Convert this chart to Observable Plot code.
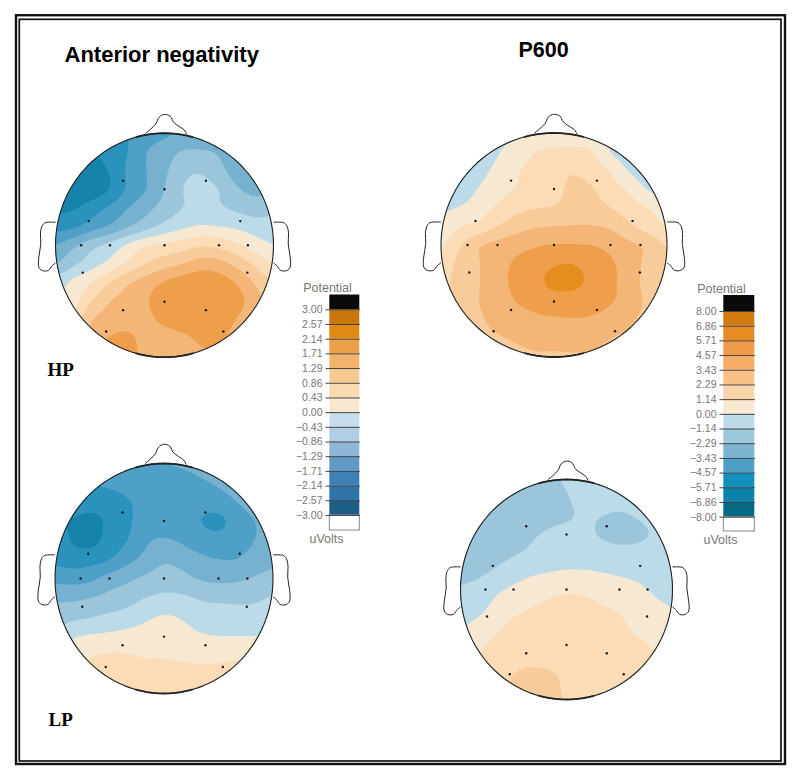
<!DOCTYPE html>
<html><head><meta charset="utf-8">
<style>html,body{margin:0;padding:0;background:#fff}svg{display:block}</style>
<script src="https://cdn.jsdelivr.net/npm/d3@7"></script>
<script src="https://cdn.jsdelivr.net/npm/@observablehq/plot@0.6"></script>
</head><body><div id="chart"></div>
<script>
// Potentials, in legend steps (1 step = 3/7 uV on the left scale, 8/7 uV on the right).
// Rows run front to back of the head, columns left to right, across a 13 x 13 scalp grid.
const anteriorHP = [
[-5.5,-5.5,-5,-4.6,-4,-3.5,-3.2,-2.9,-2.7,-2.5,-2.4,-2.4,-2.4],
[-6,-5.2,-5.1,-4.6,-4,-3,-2.5,-1.9,-1.9,-2.1,-2.6,-3.1,-3.3],
[-5.6,-5.5,-5.4,-4.9,-3.8,-3,-2.2,-1.3,-1.1,-1.7,-2.5,-3,-3.2],
[-5.7,-5.6,-5.6,-5,-3.8,-3,-2,-1,-.7,-1,-1.9,-2.3,-2.2],
[-5.2,-5.1,-4.5,-3.8,-3,-2.3,-1.6,-1,-.8,-.9,-1.2,-1.5,-1.3],
[-4.4,-4.2,-3.5,-2.9,-2.1,-1.4,-.7,-.2,.1,0,-.2,-.5,-.6],
[-3,-2.2,-1.3,-.7,.2,.9,1.2,1.5,1.9,1.7,1.2,.5,0],
[-2,-1.2,-.4,.3,1.2,2,2.6,3,3.5,3.4,2.7,1.8,.9],
[-.5,.3,1,2,2.9,3.5,4.1,4.5,4.7,4.5,3.9,2.9,2],
[.2,.6,2,3,3.4,3.9,4.6,4.8,4.9,4.8,4.4,3.4,2.6],
[1.2,1.5,3,3.4,3.5,3.7,4.3,4.7,4.8,4.7,3.9,3.3,2.8],
[2,2.5,3.4,4.1,4.3,3.5,3.4,3.7,4.2,4.2,3.5,3.2,3],
[2.5,3,4,4.6,4.5,3.6,3.3,3.4,3.8,3.8,3.4,3.2,3]];
const p600HP = [
[-1,-1,-.8,-.3,-.1,.3,.6,.5,.3,0,-.4,-.8,-1],
[-1.3,-1.2,-.9,-.1,.4,1,1.1,1.2,1.05,-.05,-.6,-.8,-1],
[-1.2,-1,-.4,.3,.9,1.3,1.5,1.9,1.5,.95,-.1,-.7,-.9],
[-.9,-.6,.05,.6,1.05,1.4,1.6,2.3,2.1,1.4,.85,-.1,-.4],
[-.2,.05,.5,1.15,1.7,1.95,2.05,2.4,2.4,2,1.45,1,.5],
[.4,.95,1.3,2,2.6,2.9,3,3.05,3.05,2.85,2.2,1.5,1],
[.85,1.9,2.9,3.3,3.6,3.9,4.05,4.05,4,3.7,3.2,2.8,1.9],
[1.4,2.3,2.95,3.5,4.2,4.5,4.9,5,4.6,4.15,3.5,2.7,2],
[1.7,2.4,2.95,3.6,4.3,4.7,5.3,5.3,4.75,4.3,3.4,2.7,2.1],
[1.8,2.4,3,3.4,4.05,4.35,4.5,4.5,4.35,4.1,3.5,2.8,2.2],
[1.9,2.4,2.85,3.3,3.5,3.8,3.9,3.95,3.9,3.6,3.15,2.7,2.3],
[1.9,2.3,2.6,2.9,3.1,3.3,3.3,3.4,3.3,3,2.8,2.5,2.3],
[2,2.2,2.4,2.6,2.8,2.9,2.9,2.9,2.9,2.8,2.6,2.4,2.2]];
const anteriorLP = [
[-4.5,-4.5,-4,-3.6,-3.3,-3.05,-3,-2.9,-2.8,-2.7,-2.5,-2.4,-2.4],
[-4.5,-4.3,-4,-3.8,-3.5,-3.4,-3.4,-3.3,-3.1,-2.9,-2.6,-2.4,-2.3],
[-5,-4.6,-4.4,-4.5,-4.1,-3.6,-3.5,-3.5,-3.6,-3.4,-3,-2.6,-2.4],
[-5,-5.05,-5.4,-4.7,-4.15,-3.6,-3.5,-3.6,-4,-4.3,-3.5,-3,-2.6],
[-4.5,-5.1,-5.3,-4.6,-4,-3.15,-2.9,-3.15,-3.5,-3.6,-3.4,-3,-2.6],
[-4.3,-4.5,-4.4,-4.05,-3.3,-2.7,-2.15,-2.4,-2.8,-3,-3,-2.6,-2.2],
[-3.3,-3.4,-3.2,-2.6,-2.2,-1.8,-1.5,-1.7,-2.1,-2.25,-2.2,-1.9,-1.7],
[-2.2,-2.2,-2,-1.7,-1.4,-1,-.8,-.85,-1.1,-1.2,-1.2,-1.15,-.9],
[-1.5,-1.25,-1.05,-.8,-.6,-.2,.1,-.1,-.5,-.6,-.7,-.7,-.7],
[-.6,-.1,.1,.2,.35,.5,.6,.4,.1,0,0,0,0],
[.3,.6,.95,1.1,1.05,.9,.9,.8,.7,.75,.85,.8,.7],
[1,1.2,1.4,1.6,1.6,1.5,1.5,1.4,1.3,1.3,1.3,1.2,1.1],
[1.5,1.6,1.7,1.7,1.7,1.7,1.7,1.7,1.6,1.6,1.6,1.5,1.5]];
const p600LP = [
[-1.6,-1.6,-1.6,-1.5,-1.4,-1.2,-.9,-.7,-.6,-.5,-.5,-.5,-.5],
[-1.6,-1.6,-1.6,-1.5,-1.5,-1.3,-1.05,-.75,-.7,-.7,-.6,-.5,-.5],
[-1.6,-1.6,-1.5,-1.5,-1.4,-1.2,-1.1,-.9,-1,-1.1,-.95,-.7,-.6],
[-1.7,-1.6,-1.5,-1.35,-1.1,-.9,-.75,-.8,-1.1,-1.3,-1.2,-.9,-.6],
[-1.6,-1.5,-1.3,-1.1,-.85,-.6,-.5,-.5,-.6,-.7,-.7,-.6,-.5],
[-1.3,-1.2,-.9,-.55,-.2,-.05,.05,.05,-.05,-.2,-.3,-.4,-.4],
[-.9,-.7,-.2,.2,.5,.7,.85,.8,.65,.5,.2,-.15,-.4],
[-.5,-.3,.3,.75,1,1.25,1.4,1.3,1.05,.9,.55,.25,0],
[-.1,.3,.8,1.2,1.45,1.6,1.65,1.6,1.45,1.2,.8,.55,.3],
[.3,.8,1.2,1.5,1.6,1.7,1.75,1.7,1.6,1.4,1.15,.9,.6],
[.6,1.1,1.5,1.8,1.9,1.85,1.8,1.75,1.65,1.45,1.3,1.1,.9],
[.8,1.3,1.7,2.1,2.3,2.25,1.85,1.75,1.65,1.5,1.4,1.2,1],
[1,1.4,1.8,2.1,2.3,2.3,1.9,1.75,1.65,1.5,1.4,1.3,1.1]];

// Electrode sites on the unit scalp, nose up.
const siteU = [-.38,0,.38,-.695,.695,-.765,-.5,0,.5,.765,-.75,.76,0,-.38,.38,-.535,.54];
const siteV = [.575,.5,.575,.215,.215,0,0,0,0,0,-.245,-.245,-.505,-.58,-.58,-.77,-.77];
const noseU = [-.171,-.125,-.08,-.049,-.003,.052,.083,.135,.18,.202];
const noseV = [1,1.039,1.083,1.143,1.167,1.152,1.098,1.06,1.03,.994];
const earU = [1.003,1.037,1.098,1.128,1.138,1.135,1.153,1.153,1.122,1.067,1.03,1.003];
const earV = [.205,.206,.199,.161,.101,.012,-.107,-.196,-.226,-.226,-.182,-.161];

const contourLevels = [-7,-6,-5,-4,-3,-2,-1,0,1,2,3,4,5,6,7];
const contourColors = ["#0e6a88","#1583ab","#2a92bd","#4fa0c6","#76b2d0","#9ac5da","#bcdbe8","#f7e8d2","#fbdcb6","#f8cb9a","#f4b676","#ef9f4c","#e58e1e","#d9780f","#0a0a0a"];

const leftLabels = ["3.00","2.57","2.14","1.71","1.29","0.86","0.43","0.00","\u22120.43","\u22120.86","\u22121.29","\u22121.71","\u22122.14","\u22122.57","\u22123.00"];
const leftColors = ["#c9760f","#e08a14","#eba14a","#f2b46c","#f6c98f","#f9dab0","#f6e8cf","#c6ddee","#afcde3","#8fb6d8","#5f9ac6","#3c80b5","#2f75aa","#1c5e86"];
const rightLabels = ["8.00","6.86","5.71","4.57","3.43","2.29","1.14","0.00","\u22121.14","\u22122.29","\u22123.43","\u22124.57","\u22125.71","\u22126.86","\u22128.00"];
const rightColors = ["#d17a10","#e88a22","#f09b4c","#f6ad68","#f9c08a","#fbd3a8","#f9e8d2","#bedce8","#9cc8dc","#7bb4d0","#4f9fc4","#138fbd","#0a82a8","#066a85"];

// Layout, in page pixels.
const heads = [
  {grid: anteriorHP, cx: 164, cy: 244.7, rx: 109, ry: 112},
  {grid: p600HP, cx: 553.5, cy: 244.5, rx: 113, ry: 112},
  {grid: anteriorLP, cx: 163.5, cy: 578, rx: 109, ry: 115},
  {grid: p600LP, cx: 566, cy: 589, rx: 106, ry: 110}
];
const legends = [
  {labels: leftLabels, colors: leftColors, x1: 329.3, x2: 359.3, top: 294.5, first: 309.3, step: 14.69, bottom: 530, textX: 322, tickX: 325, headX: 327, headY: 287, unitY: 538},
  {labels: rightLabels, colors: rightColors, x1: 723.3, x2: 754.3, top: 295, first: 311, step: 14.69, bottom: 531, textX: 716, tickX: 719, headX: 721, headY: 288, unitY: 539}
];

function cr(a, b, c, d, t) {
  return b + 0.5 * t * (c - a + t * (2 * a - 5 * b + 4 * c - d + t * (3 * (b - c) + d - a)));
}
function sampleGrid(g, u, v) {
  const n = g.length - 1;
  const fx = (u + 1) / 2 * n, fy = (1 - v) / 2 * n;
  const c = Math.max(0, Math.min(n - 1, Math.floor(fx))), r = Math.max(0, Math.min(n - 1, Math.floor(fy)));
  const tx = Math.max(0, Math.min(1, fx - c)), ty = Math.max(0, Math.min(1, fy - r));
  const at = (i, j) => g[Math.max(0, Math.min(n, i))][Math.max(0, Math.min(n, j))];
  const row = i => cr(at(i, c - 1), at(i, c), at(i, c + 1), at(i, c + 2), tx);
  return cr(row(r - 1), row(r), row(r + 1), row(r + 2), ty);
}
let clipId = 0;
const clipToHead = h => function (index, scales, values, dimensions, context, next) {
  const g = next(index, scales, values, dimensions, context);
  const id = "scalp-" + (++clipId);
  const sel = d3.select(g);
  sel.append("clipPath").attr("id", id).append("ellipse")
    .attr("cx", scales.x(h.cx)).attr("cy", scales.y(h.cy))
    .attr("rx", Math.abs(scales.x(h.cx + h.rx) - scales.x(h.cx)))
    .attr("ry", Math.abs(scales.y(h.cy + h.ry) - scales.y(h.cy)));
  sel.attr("clip-path", `url(#${id})`);
  return g;
};
const angles = d3.range(0, 361, 3).map(d => d * Math.PI / 180);
const topArc = d3.range(75, 106, 3).map(d => d * Math.PI / 180);
const bottomArc = d3.range(255, 286, 3).map(d => d * Math.PI / 180);
const marks = [];

// double border
marks.push(Plot.rect([0], {x1: 16, x2: 785, y1: 15.2, y2: 764, fill: "none", stroke: "#111", strokeWidth: 2.4}));
marks.push(Plot.rect([0], {x1: 19.3, x2: 781, y1: 19.3, y2: 761, fill: "none", stroke: "#111", strokeWidth: 1.7}));

for (const h of heads) {
  marks.push(Plot.contour({
    fill: (x, y) => sampleGrid(h.grid, (x - h.cx) / h.rx, (h.cy - y) / h.ry),
    x1: h.cx - h.rx - 2, x2: h.cx + h.rx + 2, y1: h.cy - h.ry - 2, y2: h.cy + h.ry + 2,
    pixelSize: 1, blur: 3, thresholds: contourLevels, render: clipToHead(h)
  }));
  const px = u => h.cx + h.rx * u, py = v => h.cy - h.ry * v;
  marks.push(Plot.line(angles, {x: a => px(Math.cos(a)), y: a => py(Math.sin(a)), stroke: "#222", strokeWidth: 1.1}));
  for (const arc of [topArc, bottomArc]) {
    marks.push(Plot.line(arc, {x: a => px(Math.cos(a)), y: a => py(Math.sin(a)), stroke: "#222", strokeWidth: 1.8}));
  }
  marks.push(Plot.line(d3.range(noseU.length), {x: i => px(noseU[i]), y: i => py(noseV[i]), stroke: "#222", strokeWidth: 1, curve: "catmull-rom"}));
  marks.push(Plot.line(d3.range(earU.length), {x: i => px(earU[i]), y: i => py(earV[i]), stroke: "#222", strokeWidth: 1, curve: "catmull-rom"}));
  marks.push(Plot.line(d3.range(earU.length), {x: i => px(-earU[i]), y: i => py(earV[i]), stroke: "#222", strokeWidth: 1, curve: "catmull-rom"}));
  marks.push(Plot.dot(d3.range(siteU.length), {x: i => px(siteU[i]), y: i => py(siteV[i]), r: 1.2, fill: "#1a1a1a", stroke: "none"}));
}

for (const l of legends) {
  const bands = l.colors.map((c, i) => ({c, y1: l.first + i * l.step, y2: l.first + (i + 1) * l.step}));
  const ys = l.labels.map((t, i) => ({t, y: l.first + i * l.step}));
  const end = l.first + (l.labels.length - 1) * l.step;
  marks.push(Plot.rect([0], {x1: l.x1, x2: l.x2, y1: l.top, y2: l.first, fill: "#0a0a0a"}));
  marks.push(Plot.rect(bands, {x1: l.x1, x2: l.x2, y1: "y1", y2: "y2", fill: {value: "c", scale: null}}));
  marks.push(Plot.rect([0], {x1: l.x1, x2: l.x2, y1: end, y2: l.bottom, fill: "#fff", stroke: "#888", strokeWidth: 1}));
  marks.push(Plot.link(ys, {x1: l.tickX, x2: l.x2, y1: "y", y2: "y", stroke: "#444", strokeWidth: 1}));
  marks.push(Plot.text(ys, {x: l.textX, y: "y", text: "t", textAnchor: "end", fontSize: 10.5, fontFamily: "Liberation Sans", fill: "#777"}));
  marks.push(Plot.text(["Potential"], {x: l.headX, y: l.headY, text: d => d, fontSize: 12.5, fontFamily: "Liberation Sans", fill: "#777"}));
  marks.push(Plot.text(["uVolts"], {x: l.headX - 1, y: l.unitY, text: d => d, fontSize: 12.5, fontFamily: "Liberation Sans", fill: "#777"}));
}

marks.push(Plot.text(["Anterior negativity"], {x: 64, y: 54, text: d => d, textAnchor: "start", fontSize: 22, fontWeight: "bold", fontFamily: "Liberation Sans", fill: "#000"}));
marks.push(Plot.text(["P600"], {x: 518, y: 50, text: d => d, textAnchor: "start", fontSize: 21.5, fontWeight: "bold", fontFamily: "Liberation Sans", fill: "#000"}));
marks.push(Plot.text(["HP"], {x: 47, y: 369, text: d => d, textAnchor: "start", fontSize: 19, fontWeight: "bold", fontFamily: "Liberation Serif", fill: "#000"}));
marks.push(Plot.text(["LP"], {x: 48, y: 719, text: d => d, textAnchor: "start", fontSize: 19, fontWeight: "bold", fontFamily: "Liberation Serif", fill: "#000"}));

const chart = Plot.plot({
  width: 800, height: 780, margin: 0,
  x: {domain: [0, 800], axis: null},
  y: {domain: [780, 0], axis: null},
  color: {type: "ordinal", domain: contourLevels, range: contourColors},
  marks
});
document.getElementById("chart").append(chart);
</script></body></html>
